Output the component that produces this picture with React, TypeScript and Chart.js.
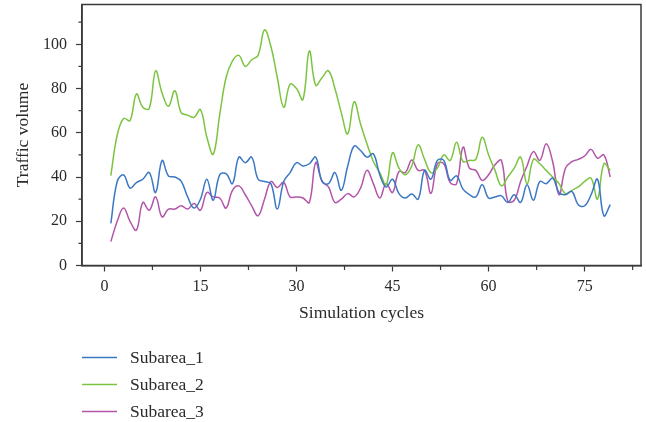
import { useEffect, useRef } from "react";
import { Chart, registerables } from "chart.js";

Chart.register(...registerables);

// Simulation cycles 1..79
const cycles: number[] = Array.from({ length: 79 }, (_, i) => i + 1);

const subarea1: number[] = [
  19, 38, 41, 35, 37.5, 39, 42, 33, 47.5, 40.5,
  40, 38, 31, 26, 30, 39, 29.5, 41, 41.5, 37,
  49, 46.5, 49, 39, 38, 37, 25.5, 38, 42, 46.5,
  45, 46, 49, 38, 37, 42, 34, 45, 54, 52,
  49, 50.5, 41, 35.5, 39, 32.5, 30.5, 32.3, 30, 43,
  39, 47.5, 47.5, 38.5, 40.5, 34.5, 32, 31, 36.5, 30.5,
  31, 31.5, 28.5, 32, 28.5, 36.5, 29.5, 38, 37, 39.5,
  33, 32, 33.5, 27.5, 27, 32, 39, 22.5, 27.5,
];

const subarea2: number[] = [
  40.6, 59, 66.5, 65.5, 77.5, 71.5, 71, 88, 78, 72,
  79, 69, 68, 67, 70.5, 58, 50.3, 68, 85, 92.5,
  95, 90, 93, 95, 106.5, 99, 85, 71.5, 82, 80,
  75, 97, 81.5, 85, 88, 80, 69, 59.5, 74, 64,
  55, 47, 42, 36.5, 51, 44, 41, 45, 54.5, 48,
  42, 44, 50, 47.5, 55.7, 47, 47.5, 48, 58, 50,
  43, 36, 40, 44, 49, 37, 48, 46, 43, 40,
  37, 32.5, 34, 35.5, 38, 39.5, 30, 46, 43,
];

const subarea3: number[] = [
  10.8, 20, 26, 20, 16, 28.5, 25, 31, 22, 25.5,
  25.5, 27, 25.5, 28, 25, 33, 31, 30.5, 26, 34,
  36, 32, 27, 22.5, 30, 38, 35.3, 37.6, 31, 31,
  30.5, 28.5, 46.5, 38, 35.5, 28.5, 30, 32.5, 31, 35,
  43, 37, 30.5, 37, 33, 42.5, 42, 47.7, 43, 43,
  32.6, 46, 46, 37.5, 37, 53.5, 44, 43, 38.5, 41,
  45.5, 47.5, 29, 29.5, 38, 45, 51.5, 47.5, 55, 47,
  32, 44, 47, 48, 49.5, 52.5, 48.5, 50, 40,
];

const seriesNames = ["Subarea_1", "Subarea_2", "Subarea_3"];
const seriesColors = ["#3b78c4", "#7cc440", "#b355a9"];

const xTicks = [0, 15, 30, 45, 60, 75];
const xMinorTicks = [7.5, 22.5, 37.5, 52.5, 67.5, 82.5];
const yTicks = [0, 20, 40, 60, 80, 100];
const yMinorTicks = [10, 30, 50, 70, 90, 110];

const FONT = '"Liberation Serif", "Times New Roman", serif';
const AXIS = "#3a3a3a";
const TEXT = "#2a2a2a";

// Closed frame around the plot plus the short minor ticks on both axes
const framePlugin = {
  id: "frameAndMinorTicks",
  afterDatasetsDraw(chart: any) {
    const { ctx, chartArea: a, scales } = chart;
    ctx.save();
    ctx.strokeStyle = AXIS;
    ctx.lineWidth = 1.5;
    ctx.strokeRect(a.left, a.top, a.right - a.left, a.bottom - a.top);
    ctx.lineWidth = 1.2;
    ctx.beginPath();
    for (const v of xMinorTicks) {
      const px = scales.x.getPixelForValue(v);
      ctx.moveTo(px, a.bottom);
      ctx.lineTo(px, a.bottom + 4.5);
    }
    for (const v of yMinorTicks) {
      const py = scales.y.getPixelForValue(v);
      ctx.moveTo(a.left - 3.5, py);
      ctx.lineTo(a.left, py);
    }
    ctx.stroke();
    ctx.restore();
  },
};

// Vertical legend under the x axis title
const stackedLegend = {
  id: "stackedLegend",
  afterDraw(chart: any) {
    const { ctx } = chart;
    ctx.save();
    ctx.font = `17.5px ${FONT}`;
    ctx.textBaseline = "middle";
    ctx.textAlign = "left";
    chart.data.datasets.forEach((ds: any, i: number) => {
      const y = 357.5 + i * 27;
      ctx.strokeStyle = ds.borderColor;
      ctx.lineWidth = 1.5;
      ctx.beginPath();
      ctx.moveTo(82, y);
      ctx.lineTo(117, y);
      ctx.stroke();
      ctx.fillStyle = TEXT;
      ctx.fillText(ds.label, 130, y + 1);
    });
    ctx.restore();
  },
};

export default function App() {
  const canvasRef = useRef<HTMLCanvasElement | null>(null);

  useEffect(() => {
    if (!canvasRef.current) return;
    const seriesValues = [subarea1, subarea2, subarea3];
    const chart = new Chart(canvasRef.current, {
      type: "line",
      data: {
        datasets: seriesValues.map((vals, i) => ({
          label: seriesNames[i],
          data: vals.map((v, j) => ({ x: cycles[j], y: v })),
          borderColor: seriesColors[i],
          backgroundColor: seriesColors[i],
          borderWidth: 1.5,
          pointRadius: 0,
          tension: 0.4,
          fill: false,
        })),
      },
      options: {
        responsive: false,
        animation: false,
        layout: { padding: { top: 4.5, right: 5, bottom: 96.5, left: 0 } },
        plugins: { legend: { display: false }, tooltip: { enabled: false } },
        scales: {
          x: {
            type: "linear",
            min: -3.5,
            max: 83.8,
            afterBuildTicks: (s: any) => {
              s.ticks = xTicks.map((v) => ({ value: v }));
            },
            afterFit: (s: any) => {
              s.height = 60;
              s.paddingLeft = 0;
              s.paddingRight = 0;
            },
            grid: {
              drawOnChartArea: false,
              drawTicks: true,
              tickLength: 6,
              tickColor: AXIS,
              tickWidth: 1.2,
            },
            border: { display: true, color: AXIS, width: 1.5 },
            ticks: {
              font: { family: FONT, size: 16 },
              color: TEXT,
              padding: 6,
              maxRotation: 0,
              autoSkip: false,
            },
            title: {
              display: true,
              text: "Simulation cycles",
              font: { family: FONT, size: 17.5 },
              color: TEXT,
              padding: { top: 0, bottom: 2 },
            },
          },
          y: {
            type: "linear",
            min: 0,
            max: 118,
            afterBuildTicks: (s: any) => {
              s.ticks = yTicks.map((v) => ({ value: v }));
            },
            afterFit: (s: any) => {
              s.width = 82;
              s.paddingTop = 0;
              s.paddingBottom = 0;
            },
            grid: {
              drawOnChartArea: false,
              drawTicks: true,
              tickLength: 6,
              tickColor: AXIS,
              tickWidth: 1.2,
            },
            border: { display: true, color: AXIS, width: 1.5 },
            ticks: {
              font: { family: FONT, size: 16 },
              color: TEXT,
              padding: 9,
              autoSkip: false,
            },
            title: {
              display: true,
              text: "Traffic volume",
              font: { family: FONT, size: 17.5 },
              color: TEXT,
              padding: { top: 12.5, bottom: 0 },
            },
          },
        },
      },
      plugins: [framePlugin, stackedLegend],
    });
    return () => chart.destroy();
  }, []);

  return (
    <div style={{ position: "absolute", left: 0, top: 0, width: 646, height: 422, background: "#fff" }}>
      <canvas ref={canvasRef} width={646} height={422} style={{ display: "block" }} />
    </div>
  );
}
